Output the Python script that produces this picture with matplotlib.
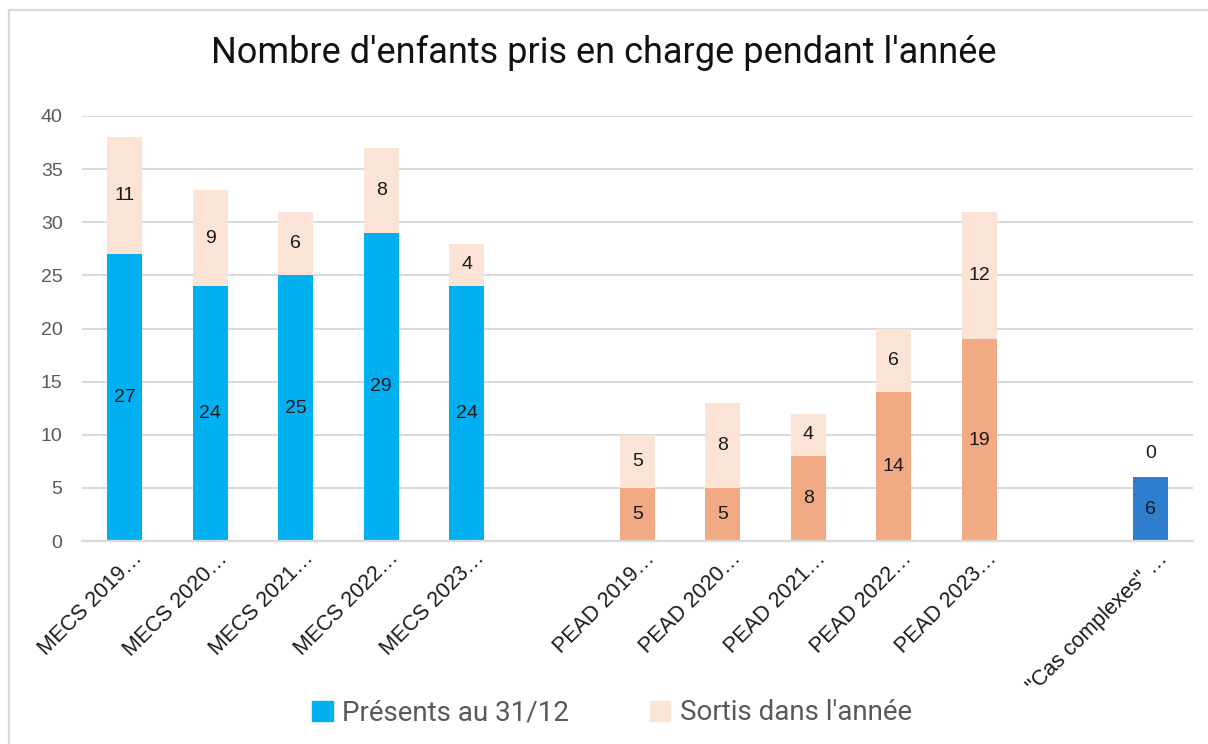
import matplotlib.pyplot as plt
import matplotlib.transforms as mtrans
from matplotlib.patches import Rectangle, Patch

# ----------------------
# Data (13 slots, gaps are empty categories)
# ----------------------
categories = ["MECS 2019…", "MECS 2020…", "MECS 2021…", "MECS 2022…", "MECS 2023…", "",
              "PEAD 2019…", "PEAD 2020…", "PEAD 2021…", "PEAD 2022…", "PEAD 2023…", "",
              "\"Cas complexes\" …"]
presents = [27, 24, 25, 29, 24, None, 5, 5, 8, 14, 19, None, 6]
sortis = [11, 9, 6, 8, 4, None, 5, 8, 4, 6, 12, None, 0]
groups = ["mecs"] * 5 + [None] + ["pead"] * 5 + [None] + ["cas"]

yTicks = [0, 5, 10, 15, 20, 25, 30, 35, 40]

title = "Nombre d'enfants pris en charge pendant l'année"
legendLabels = ["Présents au 31/12", "Sortis dans l'année"]

# colours
presColors = {"mecs": "#00B0F0", "pead": "#F2AA84", "cas": "#2E7ECF"}
sortColor = "#FBE3D6"
gridColor = "#D9D9D9"

W, H = 1208, 744
fig = plt.figure(figsize=(W / 100, H / 100), dpi=100)
ax = fig.add_axes([82 / W, 1 - 541 / H, (1193 - 82) / W, (541 - 116) / H])

barW = 0.41
for i, (p, s, g) in enumerate(zip(presents, sortis, groups)):
    if p is None:
        continue
    ax.bar(i, p, width=barW, color=presColors[g], zorder=2)
    ax.bar(i, s, width=barW, bottom=p, color=sortColor, zorder=2)
    ax.text(i, p / 2, str(p), ha="center", va="center", fontsize=14,
            family="Liberation Sans", color="#1a1a1a", zorder=3)
    # zero-height segment: label sits above the bar, as in the original
    ySort = p + s / 2 if s > 0 else p + 2.2
    ax.text(i, ySort, str(s), ha="center", va="center", fontsize=14,
            family="Liberation Sans", color="#1a1a1a", zorder=3)

ax.set_xlim(-0.5, len(categories) - 0.5)
ax.set_ylim(0, 40)
ax.set_yticks(yTicks)
ax.set_yticklabels([str(t) for t in yTicks], family="Liberation Sans", fontsize=14, color="#595959")
ax.set_xticks(range(len(categories)))
ax.set_xticklabels(categories, rotation=45, ha="right", va="top", rotation_mode="anchor",
                   family="Liberation Sans", fontsize=15.5, color="#1a1a1a")
ax.tick_params(axis="both", length=0)
ax.tick_params(axis="y", pad=14)
ax.tick_params(axis="x", pad=5)
# nudge rotated labels a little to the right like the original
offset = mtrans.ScaledTranslation(7 / 100, 0, fig.dpi_scale_trans)
for lbl in ax.get_xticklabels():
    lbl.set_transform(lbl.get_transform() + offset)

ax.grid(axis="y", color=gridColor, linewidth=1.4, zorder=0)
for side in ["top", "right", "left"]:
    ax.spines[side].set_visible(False)
ax.spines["bottom"].set_color(gridColor)
ax.spines["bottom"].set_linewidth(1.6)

fig.text(0.5, 1 - 53 / H, title, ha="center", va="center", fontsize=26,
         family=["Roboto", "DejaVu Sans"], color="#111111")

handles = [Patch(color=presColors["mecs"]), Patch(color=sortColor)]
fig.legend(handles, legendLabels, loc="center", bbox_to_anchor=(612 / W, 1 - 713 / H),
           ncol=2, frameon=False, handlelength=0.75, handleheight=0.75, handletextpad=0.35,
           columnspacing=2.9, prop={"family": ["Roboto", "DejaVu Sans"], "size": 20},
           labelcolor="#595959")

# outer chart frame
fig.patches.append(Rectangle((9 / W, -0.05), 1.1, 1 - 10 / H + 0.05, transform=fig.transFigure,
                             fill=False, edgecolor=gridColor, linewidth=1.6))

fig.savefig("out.png", dpi=100)
